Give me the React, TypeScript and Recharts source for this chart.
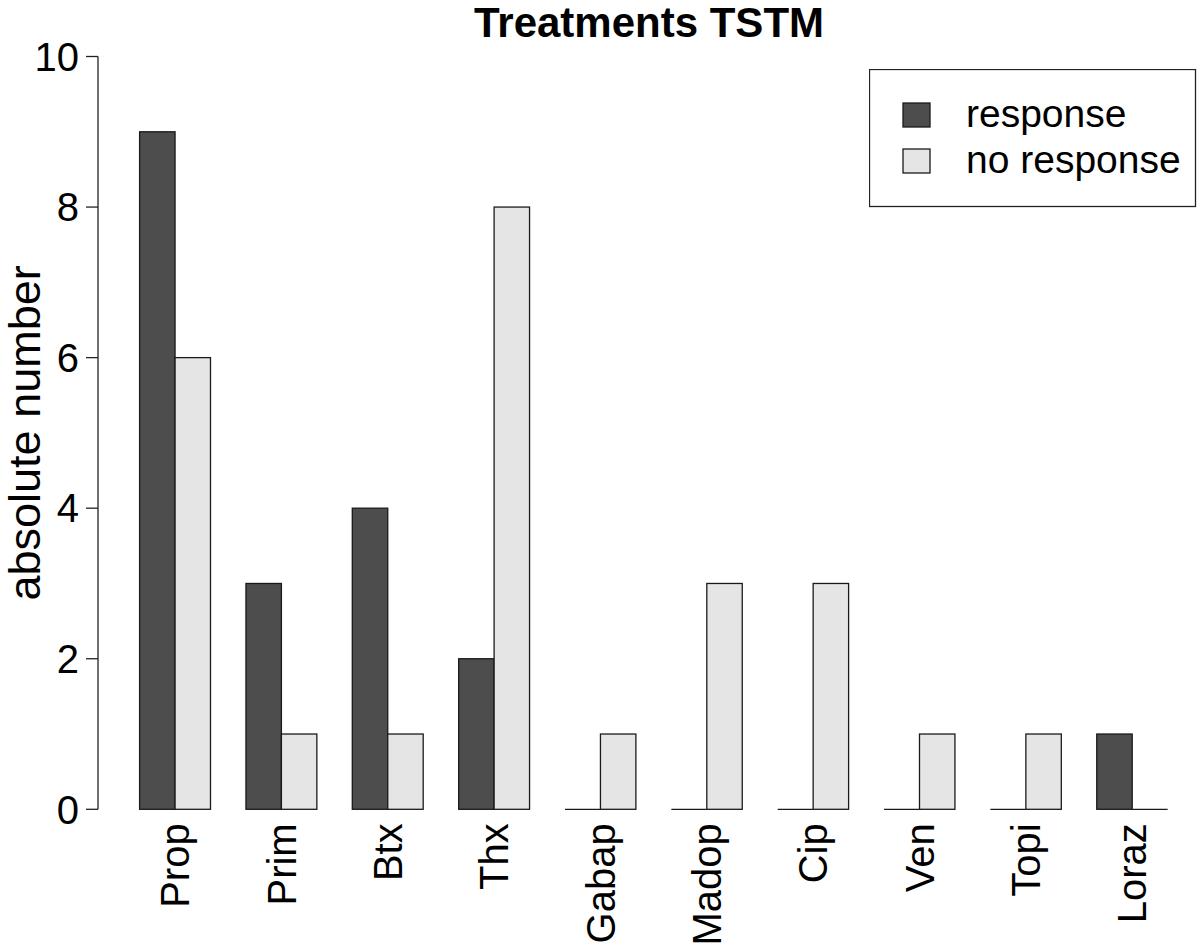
import React from "react";
import { BarChart, Bar, XAxis, YAxis, Legend } from "recharts";

const categories = ["Prop", "Prim", "Btx", "Thx", "Gabap", "Madop", "Cip", "Ven", "Topi", "Loraz"];
const response = [9, 3, 4, 2, 0, 0, 0, 0, 0, 1];
const noResponse = [6, 1, 1, 8, 1, 3, 3, 1, 1, 0];
const yTicks = [0, 2, 4, 6, 8, 10];
const seriesNames = ["response", "no response"];

const data = categories.map((name, i) => ({ name, response: response[i], noResponse: noResponse[i] }));

const FONT = '"Liberation Sans", Arial, Helvetica, sans-serif';

// R draws zero-height bars as a flat line, so do the same
const BarShape = (props: any) => {
    const { x, y, width, height, fill } = props;
    if (!height) {
        return <line x1={x} x2={x + width} y1={y} y2={y} stroke="#1a1a1a" strokeWidth={1.3} />;
    }
    return <rect x={x} y={y} width={width} height={height} fill={fill} stroke="#1a1a1a" strokeWidth={1.3} />;
};

const XTick = (props: any) => {
    const { x, y, payload } = props;
    return (
        <text x={x} y={y} transform={`rotate(-90 ${x} ${y})`} textAnchor="end" dy="0.36em" fontSize={40} fill="#000">
            {payload.value}
        </text>
    );
};

const LegendBox = (props: any) => {
    const items = [...(props.payload || [])].sort(
        (a: any, b: any) => seriesNames.indexOf(a.value) - seriesNames.indexOf(b.value)
    );
    return (
        <svg width={328} height={139} style={{ display: "block" }}>
            <rect x={0.5} y={0.5} width={326} height={137} fill="#fff" stroke="#222" strokeWidth={1.3} />
            {items.map((it: any, i: number) => (
                <g key={i}>
                    <rect x={34} y={34 + i * 46} width={27} height={24} fill={it.color} stroke="#1a1a1a" strokeWidth={1.3} />
                    <text x={97} y={58 + i * 46} fontSize={39} fill="#000">{it.value}</text>
                </g>
            ))}
        </svg>
    );
};

export default function App() {
    return (
        <div style={{ position: "absolute", left: 0, top: 0, width: 1200, height: 951, background: "#fff", fontFamily: FONT }}>
            <svg width={1200} height={60} style={{ position: "absolute", left: 0, top: 0 }}>
                <text x={649} y={37} textAnchor="middle" fontSize={42} fontWeight="bold" fill="#000">Treatments TSTM</text>
            </svg>
            <BarChart width={1200} height={951} data={data} margin={{ top: 56.5, right: 14.9, left: 0, bottom: 0 }} barGap={0} barSize={35.45}>
                <XAxis dataKey="name" interval={0} height={141.7} tickLine={false} axisLine={false} tickSize={0} tickMargin={14} padding={{ left: 23.6, right: 0 }} tick={<XTick />} />
                <YAxis
                    width={98}
                    domain={[0, 10]}
                    ticks={yTicks}
                    interval={0}
                    tickSize={12}
                    tickMargin={7}
                    axisLine={{ stroke: "#222", strokeWidth: 1.3 }}
                    tickLine={{ stroke: "#222", strokeWidth: 1.3 }}
                    tick={{ fill: "#000", fontSize: 40 }}
                    label={{
                        content: ({ viewBox }: any) => {
                            const cx = viewBox.x + 40;
                            const cy = viewBox.y + viewBox.height / 2;
                            return (
                                <text x={cx} y={cy} transform={`rotate(-90 ${cx} ${cy})`} textAnchor="middle" fontSize={45} fill="#000">
                                    absolute number
                                </text>
                            );
                        },
                    }}
                />
                <Legend layout="horizontal" verticalAlign="middle" align="center" content={<LegendBox />} wrapperStyle={{ position: "absolute", left: 869, top: 69, width: 328, height: 139 }} />
                <Bar dataKey="response" name="response" fill="#4d4d4d" shape={BarShape} isAnimationActive={false} />
                <Bar dataKey="noResponse" name="no response" fill="#e5e5e5" shape={BarShape} isAnimationActive={false} />
            </BarChart>
        </div>
    );
}
